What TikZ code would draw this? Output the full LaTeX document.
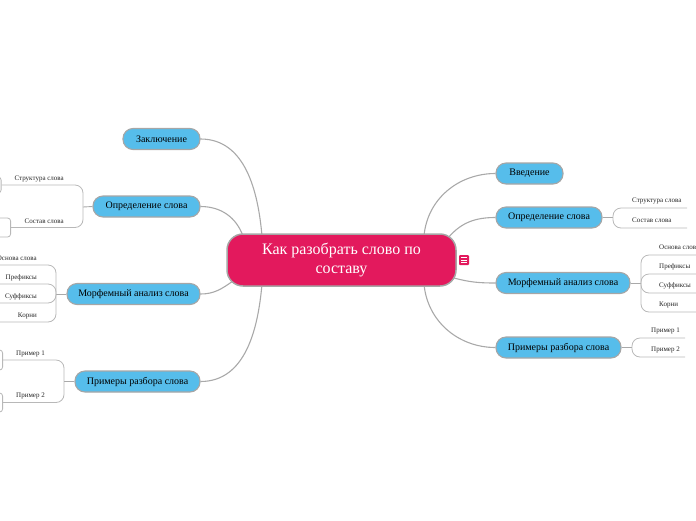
\documentclass[tikz,border=0pt]{standalone}
\usepackage{fontspec}
\setmainfont{Liberation Serif}
\definecolor{pinkc}{HTML}{E3195D}
\definecolor{bluec}{HTML}{56BDEB}
\definecolor{bord}{HTML}{A6A6A6}
\definecolor{linec}{HTML}{A9A9A9}
\definecolor{brkc}{HTML}{B8B8B8}
\tikzset{
 topic/.style={draw=bord, line width=1.1pt, fill=bluec, rounded corners=10pt, minimum height=21pt, inner sep=0pt, font=\fontsize{10}{12}\selectfont, text=black},
 central/.style={draw=bord, line width=1.5pt, fill=pinkc, rounded corners=16pt, minimum width=229pt, minimum height=52pt, inner sep=0pt, text=white, align=center, font=\fontsize{16}{19}\selectfont},
 conn/.style={draw=linec, line width=1.1pt},
 brk/.style={draw=brkc, line width=0.8pt, rounded corners=8pt},
 sublab/.style={font=\fontsize{7}{8}\selectfont, inner sep=0pt, text=black!85},
 stub/.style={draw=brkc, line width=0.8pt, fill=white, rounded corners=3pt, minimum height=16pt, minimum width=30pt, inner sep=0pt},
}
\begin{document}
\begin{tikzpicture}[x=1pt,y=-1pt]
\useasboundingbox (0,0) rectangle (696,520);

% connector end points on the central topic
\coordinate (cl1) at (262,236);
\coordinate (cl2) at (243,236);
\coordinate (cl3) at (233,281);
\coordinate (cl4) at (262,284);
\coordinate (cr1) at (424,236);
\coordinate (cr2) at (448,238);
\coordinate (cr3) at (454,278);
\coordinate (cr4) at (424,284);

% main topics
\node[topic, minimum width=77pt] (lz) at (161.5,139) {Заключение};
\node[topic, minimum width=107pt] (ld) at (146.5,206.5) {Определение слова};
\node[topic, minimum width=133pt] (lm) at (133.5,294) {Морфемный анализ слова};
\node[topic, minimum width=125pt] (lp) at (137.5,381.5) {Примеры разбора слова};
\node[topic, minimum width=67pt] (rv) at (529.5,173.5) {Введение};
\node[topic, minimum width=106pt] (rd) at (549,217.5) {Определение слова};
\node[topic, minimum width=134pt] (rm) at (563,283) {Морфемный анализ слова};
\node[topic, minimum width=125pt] (rp) at (558.5,347.5) {Примеры разбора слова};

% connectors from central topic
\draw[conn] (lz.east) to[out=0,in=95] (cl1);
\draw[conn] (ld.east) to[out=0,in=110] (cl2);
\draw[conn] (lm.east) to[out=0,in=215] (cl3);
\draw[conn] (lp.east) to[out=0,in=-95] (cl4);
\draw[conn] (cr1) to[out=85,in=180] (rv.west);
\draw[conn] (cr2) to[out=50,in=180] (rd.west);
\draw[conn] (cr3) to[out=-15,in=180] (rm.west);
\draw[conn] (cr4) to[out=-85,in=180] (rp.west);

% central topic
\node[central] (c) at (341.5,260) {Как разобрать слово по\\составу};
\node[fill=pinkc, rounded corners=1pt, minimum size=10pt, inner sep=0pt] (ic) at (464,260) {};
\draw[white, line width=0.7pt] (461,257.3) -- (467,257.3) (461,260) -- (467,260) (461,262.7) -- (467,262.7);

% ---- right: Определение слова
\coordinate (rdb) at (613,217.5);
\draw[conn, line width=0.9pt] (rd.east) -- (rdb);
\coordinate (rd1) at (687,208);
\coordinate (rd2) at (687,228);
\draw[brk] (rdb) |- (rd1);
\draw[brk] (rdb) |- (rd2);
\node[sublab, anchor=west] (rd1l) at (632,201) {Структура слова};
\node[sublab, anchor=west] (rd2l) at (632,220) {Состав слова};

% ---- right: Морфемный анализ слова
\coordinate (rmb) at (641,283);
\draw[conn, line width=0.9pt] (rm.east) -- (rmb);
\coordinate (rm1) at (700,255);
\coordinate (rm2) at (700,274);
\coordinate (rm3) at (700,293);
\coordinate (rm4) at (700,312);
\draw[brk] (rmb) |- (rm1);
\draw[brk] (rmb) |- (rm2);
\draw[brk] (rmb) |- (rm3);
\draw[brk] (rmb) |- (rm4);
\node[sublab, anchor=west] (rm1l) at (659,247.5) {Основа слова};
\node[sublab, anchor=west] (rm2l) at (659,266.5) {Префиксы};
\node[sublab, anchor=west] (rm3l) at (659,285.5) {Суффиксы};
\node[sublab, anchor=west] (rm4l) at (659,304.5) {Корни};

% ---- right: Примеры разбора слова
\coordinate (rpb) at (632,347.5);
\draw[conn, line width=0.9pt] (rp.east) -- (rpb);
\coordinate (rp1) at (685,338);
\coordinate (rp2) at (685,357);
\draw[brk] (rpb) |- (rp1);
\draw[brk] (rpb) |- (rp2);
\node[sublab, anchor=west] (rp1l) at (651,330.5) {Пример 1};
\node[sublab, anchor=west] (rp2l) at (651,349.5) {Пример 2};

% ---- left: Определение слова
\coordinate (ldb) at (83,207);
\draw[conn, line width=0.9pt] (ld.west) -- (ldb);
\node[stub, anchor=east] (ls1) at (1.5,185) {};
\node[stub, anchor=east, minimum height=19pt] (ls2) at (11,227.5) {};
\draw[brk] (ldb) |- (ls1.east);
\draw[brk] (ldb) |- (ls2.east);
\node[sublab, anchor=east] (ld1l) at (64,179) {Структура слова};
\node[sublab, anchor=east] (ld2l) at (64,221) {Состав слова};

% ---- left: Морфемный анализ слова
\coordinate (lmb) at (56,294);
\draw[conn, line width=0.9pt] (lm.west) -- (lmb);
\coordinate (lm1) at (-5,265);
\coordinate (lm2) at (-5,284);
\coordinate (lm3) at (-5,303);
\coordinate (lm4) at (-5,322);
\draw[brk] (lmb) |- (lm1);
\draw[brk] (lmb) |- (lm2);
\draw[brk] (lmb) |- (lm3);
\draw[brk] (lmb) |- (lm4);
\node[sublab, anchor=east] (lm1l) at (37,258.5) {Основа слова};
\node[sublab, anchor=east] (lm2l) at (37,277.5) {Префиксы};
\node[sublab, anchor=east] (lm3l) at (37,296.5) {Суффиксы};
\node[sublab, anchor=east] (lm4l) at (37,315.5) {Корни};

% ---- left: Примеры разбора слова
\coordinate (lpb) at (64,381.5);
\draw[conn, line width=0.9pt] (lp.west) -- (lpb);
\node[stub, anchor=east, minimum height=20pt] (lq1) at (3,360) {};
\node[stub, anchor=east, minimum height=19pt] (lq2) at (3,402.5) {};
\draw[brk] (lpb) |- (lq1.east);
\draw[brk] (lpb) |- (lq2.east);
\node[sublab, anchor=east] (lp1l) at (45,354) {Пример 1};
\node[sublab, anchor=east] (lp2l) at (45,396) {Пример 2};
\end{tikzpicture}
\end{document}
